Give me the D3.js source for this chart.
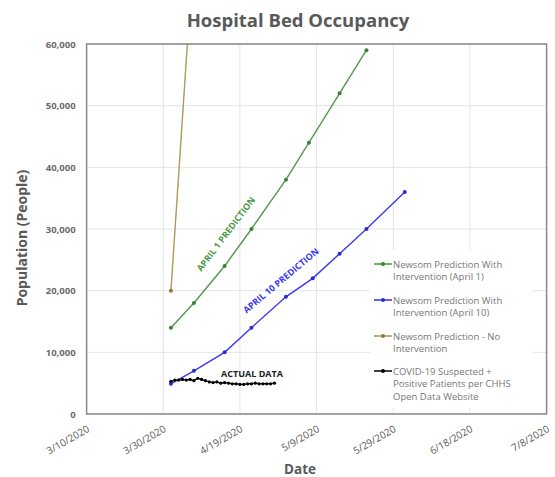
<!DOCTYPE html>
<html>
<head>
<meta charset="utf-8">
<script src="https://cdn.jsdelivr.net/npm/d3@7"></script>
<style>
  body { margin: 0; background: #fff; }
  text { font-family: "Open Sans", "Noto Sans", sans-serif; }
</style>
</head>
<body>
<svg id="chart" width="555" height="477"></svg>
<script>
// data
var april1_dates = ["2020-04-01","2020-04-07","2020-04-15","2020-04-22","2020-05-01","2020-05-07","2020-05-15","2020-05-22"];
var april1_vals = [14000,18000,24000,30000,38000,44000,52000,59000];

var april10_dates = ["2020-04-01","2020-04-07","2020-04-15","2020-04-22","2020-05-01","2020-05-08","2020-05-15","2020-05-22","2020-06-01"];
var april10_vals = [4900,7000,10000,14000,19000,22000,26000,30000,36000];

var no_int_dates = ["2020-04-01","2020-04-07"];
var no_int_vals = [20000,76000];

var actual_dates = ["2020-04-01","2020-04-02","2020-04-03","2020-04-04","2020-04-05","2020-04-06","2020-04-07",
    "2020-04-08","2020-04-09","2020-04-10","2020-04-11","2020-04-12","2020-04-13","2020-04-14",
    "2020-04-15","2020-04-16","2020-04-17","2020-04-18","2020-04-19","2020-04-20","2020-04-21",
    "2020-04-22","2020-04-23","2020-04-24","2020-04-25","2020-04-26","2020-04-27","2020-04-28"];
var actual_vals = [5300,5500,5500,5600,5500,5600,5400,5800,5600,5400,5200,5100,5200,5000,
    5100,5000,4900,4900,4800,4800,4900,4900,5000,4900,4900,4900,4900,5000];

var x_ticks = ["2020-03-10","2020-03-30","2020-04-19","2020-05-09","2020-05-29","2020-06-18","2020-07-08"];
var y_ticks = [0,10000,20000,30000,40000,50000,60000];

var series_names = ["Newsom Prediction With Intervention (April 1)",
    "Newsom Prediction With Intervention (April 10)",
    "Newsom Prediction - No Intervention",
    "COVID-19 Suspected + Positive Patients per CHHS Open Data Website"];

var parse = d3.timeParse("%Y-%m-%d");

function to_points(dates, vals) {
    return dates.map(function(d, i) { return {date: parse(d), value: vals[i]}; });
}

var series = [
    {name: series_names[0], colour: "#4f9a4a", dot: "#3d7f38", r: 2, data: to_points(april1_dates, april1_vals),
        legend: ["Newsom Prediction With", "Intervention (April 1)"]},
    {name: series_names[1], colour: "#3b3bf0", dot: "#2a2ad0", r: 2, data: to_points(april10_dates, april10_vals),
        legend: ["Newsom Prediction With", "Intervention (April 10)"]},
    {name: series_names[2], colour: "#b09a55", dot: "#8a7a30", r: 2, data: to_points(no_int_dates, no_int_vals),
        legend: ["Newsom Prediction - No", "Intervention"]},
    {name: series_names[3], colour: "#111", dot: "#000", r: 1.6, data: to_points(actual_dates, actual_vals),
        legend: ["COVID-19 Suspected +", "Positive Patients per CHHS", "Open Data Website"]}
];

var svg = d3.select("#chart");
var margin = {top: 44, left: 86.6, right: 8.4, bottom: 63};
var width = 555 - margin.left - margin.right;
var height = 477 - margin.top - margin.bottom;

var x_scale = d3.scaleTime()
    .domain([parse(x_ticks[0]), parse(x_ticks[x_ticks.length - 1])])
    .range([0, width]);
var y_scale = d3.scaleLinear().domain([0, 60000]).range([height, 0]);

var grey = "#595959";

//title
svg.append("text")
    .attr("x", 298).attr("y", 27)
    .attr("text-anchor", "middle")
    .attr("font-size", 18.5).attr("font-weight", "bold")
    .attr("fill", grey)
    .text("Hospital Bed Occupancy");

var g = svg.append("g").attr("transform", "translate(" + margin.left + "," + margin.top + ")");

svg.append("defs").append("clipPath").attr("id", "clip")
    .append("rect").attr("width", width).attr("height", height);

//gridlines
g.append("g").selectAll("line").data(y_ticks).enter().append("line")
    .attr("x1", 0).attr("x2", width)
    .attr("y1", d => y_scale(d)).attr("y2", d => y_scale(d))
    .attr("stroke", "#e4e4e4");
g.append("g").selectAll("line").data(x_ticks).enter().append("line")
    .attr("x1", d => x_scale(parse(d))).attr("x2", d => x_scale(parse(d)))
    .attr("y1", 0).attr("y2", height)
    .attr("stroke", "#e4e4e4");

//y axis labels
var y_axis = d3.axisLeft(y_scale).tickValues(y_ticks).tickSize(0).tickPadding(11).tickFormat(d3.format(","));
g.append("g").call(y_axis)
    .call(a => a.select(".domain").remove())
    .selectAll("text")
    .attr("font-family", "\"Open Sans\", sans-serif")
    .attr("font-size", 9.5).attr("font-weight", "bold").attr("fill", "#6a6a6a");

//x axis labels, rotated
var x_axis = d3.axisBottom(x_scale).tickValues(x_ticks.map(parse)).tickSize(0).tickFormat(d3.timeFormat("%-m/%-d/%Y"));
g.append("g").attr("transform", "translate(0," + height + ")").call(x_axis)
    .call(a => a.select(".domain").remove())
    .selectAll("text")
    .attr("font-family", "\"Open Sans\", sans-serif")
    .attr("font-size", 10).attr("fill", grey)
    .attr("text-anchor", "end")
    .attr("dy", 0).attr("y", 0)
    .attr("transform", "translate(3,17) rotate(-30)");

//lines
var line = d3.line().x(d => x_scale(d.date)).y(d => y_scale(d.value));
var plot = g.append("g").attr("clip-path", "url(#clip)");
series.forEach(function(s) {
    plot.append("path").datum(s.data)
        .attr("d", line).attr("fill", "none")
        .attr("stroke", s.colour).attr("stroke-width", 1.4);
    plot.selectAll(null).data(s.data).enter().append("circle")
        .attr("cx", d => x_scale(d.date)).attr("cy", d => y_scale(d.value))
        .attr("r", s.r).attr("fill", s.dot);
});

//plot frame
g.append("rect").attr("width", width).attr("height", height)
    .attr("fill", "none").attr("stroke", "#888").attr("stroke-width", 1.5);

//annotations
g.append("text")
    .attr("transform", "translate(" + (228.5 - margin.left) + "," + (236 - margin.top) + ") rotate(-53)")
    .attr("text-anchor", "middle").attr("font-size", 9).attr("font-weight", "bold")
    .attr("fill", "#4f9a4a").text("APRIL 1 PREDICTION");
g.append("text")
    .attr("transform", "translate(" + (283 - margin.left) + "," + (283 - margin.top) + ") rotate(-40)")
    .attr("text-anchor", "middle").attr("font-size", 9).attr("font-weight", "bold")
    .attr("fill", "#3b3bf0").text("APRIL 10 PREDICTION");
g.append("text")
    .attr("x", 252 - margin.left).attr("y", 376.5 - margin.top)
    .attr("text-anchor", "middle").attr("font-size", 9).attr("font-weight", "bold")
    .attr("fill", "#222").text("ACTUAL DATA");

//legend
var legend = svg.append("g").attr("transform", "translate(370,250)");
legend.append("rect").attr("width", 163).attr("height", 158).attr("fill", "#fff");
var row_y = [14, 50, 86, 121];
series.forEach(function(s, i) {
    var row = legend.append("g").attr("transform", "translate(0," + row_y[i] + ")");
    row.append("line").attr("x1", 4).attr("x2", 22).attr("y1", 0).attr("y2", 0)
        .attr("stroke", s.colour).attr("stroke-width", 1.6);
    row.append("circle").attr("cx", 13).attr("cy", 0).attr("r", 2).attr("fill", s.dot);
    row.selectAll("text").data(s.legend).enter().append("text")
        .attr("x", 23).attr("y", (d, j) => 3.5 + j * 12.5)
        .attr("font-size", 9.5).attr("fill", "#777")
        .text(d => d);
});

//axis titles
svg.append("text")
    .attr("transform", "translate(27,238) rotate(-90)")
    .attr("text-anchor", "middle").attr("font-size", 14).attr("font-weight", "bold")
    .attr("fill", grey).text("Population (People)");
svg.append("text")
    .attr("x", 300).attr("y", 474)
    .attr("text-anchor", "middle").attr("font-size", 13.5).attr("font-weight", "bold")
    .attr("fill", grey).text("Date");
</script>
</body>
</html>
